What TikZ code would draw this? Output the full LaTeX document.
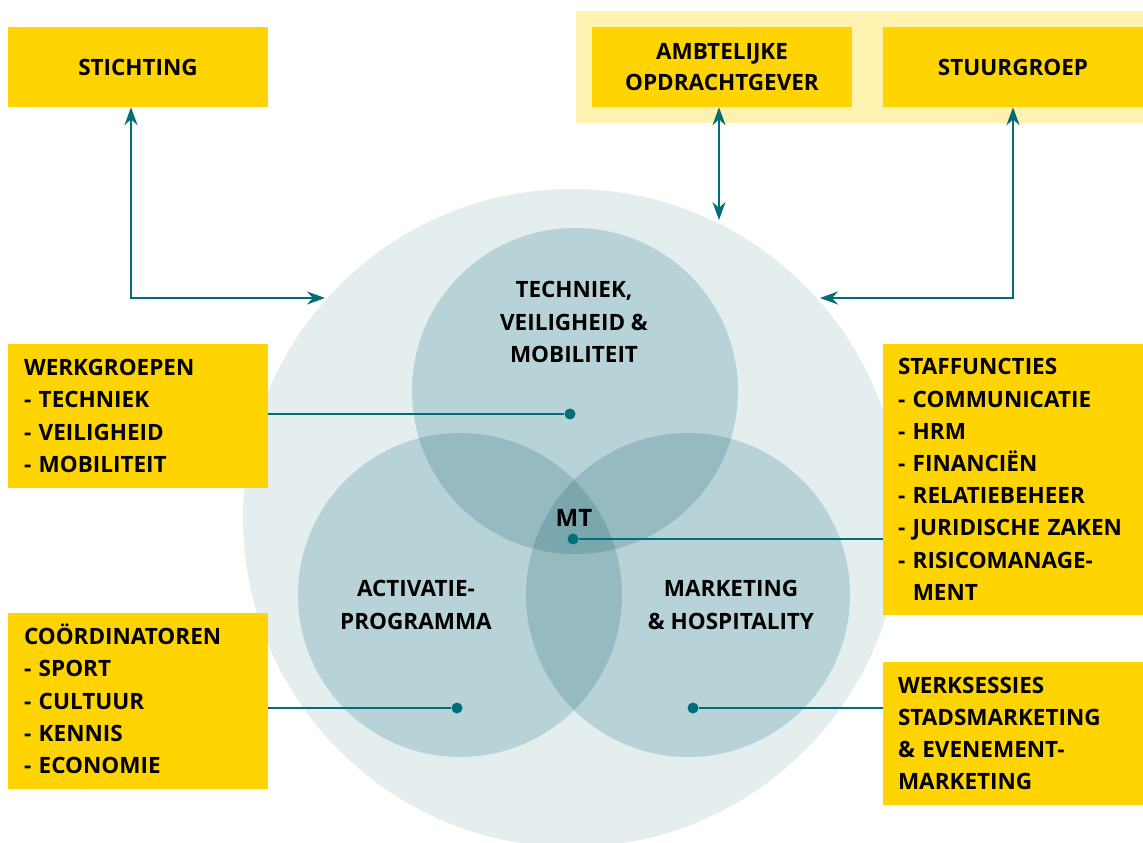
\documentclass[tikz,border=0pt]{standalone}
\usepackage{fontspec}
\setmainfont{Open Sans}
\usetikzlibrary{arrows.meta}
\definecolor{ylw}{HTML}{FFD400}
\definecolor{lylw}{HTML}{FFF1B0}
\definecolor{teal1}{HTML}{006D78}
\definecolor{bigc}{HTML}{E4EEEF}
\definecolor{c1}{HTML}{B8D3D7}
\definecolor{c2}{HTML}{95BAC0}
\definecolor{c3}{HTML}{79A7AD}
\tikzset{
  ybox/.style={fill=ylw, draw=none, minimum width=260pt, inner xsep=16pt, inner ysep=0pt,
    font=\fontsize{22.5}{32.2}\selectfont\bfseries},
  lbox/.style={ybox, text width=228pt, align=left},
  cbox/.style={ybox, align=center},
  ctext/.style={inner sep=0pt, align=center, font=\fontsize{22.5}{32.6}\selectfont\bfseries},
  conn/.style={draw=teal1, line width=2.6pt},
  arr/.style={conn, {Stealth[length=18pt,width=13pt,inset=6pt]}-{Stealth[length=18pt,width=13pt,inset=6pt]}},
  dot/.style={circle, fill=teal1, inner sep=0pt, minimum size=11pt},
}
\begin{document}
\begin{tikzpicture}[x=1pt,y=-1pt]
\useasboundingbox (0,0) rectangle (1143,843);
\clip (0,0) rectangle (1143,843);
% Venn
\fill[bigc] (572,518) circle [radius=329pt];
\fill[c1] (575,391) circle [radius=163pt];
\fill[c1] (460,595) circle [radius=162pt];
\fill[c1] (688,595) circle [radius=162pt];
\begin{scope}
  \clip (575,391) circle [radius=163pt];
  \fill[c2] (460,595) circle [radius=162pt];
  \fill[c2] (688,595) circle [radius=162pt];
\end{scope}
\begin{scope}
  \clip (460,595) circle [radius=162pt];
  \fill[c2] (688,595) circle [radius=162pt];
\end{scope}
\begin{scope}
  \clip (575,391) circle [radius=163pt];
  \clip (460,595) circle [radius=162pt];
  \fill[c3] (688,595) circle [radius=162pt];
\end{scope}
% circle texts
\node[ctext] (tvm) at (574,322) {TECHNIEK,\\VEILIGHEID \&\\MOBILITEIT};
\node[ctext] (act) at (416,605) {ACTIVATIE-\\PROGRAMMA};
\node[ctext] (mkt) at (731,605) {MARKETING\\\& HOSPITALITY};
\node[ctext, font=\fontsize{24}{28}\selectfont\bfseries] (mt) at (574,517.5) {MT};
% top backdrop
\fill[lylw] (576,11) rectangle (1143,123);
% boxes
\node[cbox, minimum height=80pt] (stichting) at (138,67) {STICHTING};
\node[cbox, minimum height=80pt, font=\fontsize{22.5}{31}\selectfont\bfseries] (ambt) at (722,67) {AMBTELIJKE\\OPDRACHTGEVER};
\node[cbox, minimum height=80pt] (stuur) at (1013,67) {STUURGROEP};
\node[lbox, minimum height=144pt] (werk) at (138,416) {WERKGROEPEN\\- TECHNIEK\\- VEILIGHEID\\- MOBILITEIT};
\node[lbox, minimum height=176pt] (coord) at (138,701) {CO\smash{Ö}RDINATOREN\\- SPORT\\- CULTUUR\\- KENNIS\\- ECONOMIE};
\node[lbox, minimum height=271pt, inner xsep=15pt, text width=230pt] (staff) at (1013,479.5) {STAFFUNCTIES\\- COMMUNICATIE\\- HRM\\- FINANCIËN\\- RELATIEBEHEER\\- \smash{J}URIDISCHE ZAKEN\\- RISICOMANAGE-\\\phantom{- }MENT};
\node[lbox, minimum height=143pt, inner xsep=15pt, text width=230pt] (werks) at (1013,733.5) {WERKSESSIES\\STADSMARKETING\\\& EVENEMENT-\\MARKETING};
% free ends
\coordinate (sL) at (325,298);
\coordinate (sR) at (820,298);
\coordinate (aB) at (719,220);
% dots
\node[dot] (d1) at (570,414) {};
\node[dot] (d2) at (573,539) {};
\node[dot] (d3) at (457,708) {};
\node[dot] (d4) at (693,708) {};
% connectors
\draw[arr] ([xshift=-7pt]stichting.south) |- (sL);
\draw[arr] ([xshift=-3pt]ambt.south) -- (aB);
\draw[arr] (stuur.south) |- (sR);
\draw[conn] (werk.east |- d1) -- (d1);
\draw[conn] (d2) -- (staff.west |- d2);
\draw[conn] (coord.east |- d3) -- (d3);
\draw[conn] (d4) -- (werks.west |- d4);
\end{tikzpicture}
\end{document}
